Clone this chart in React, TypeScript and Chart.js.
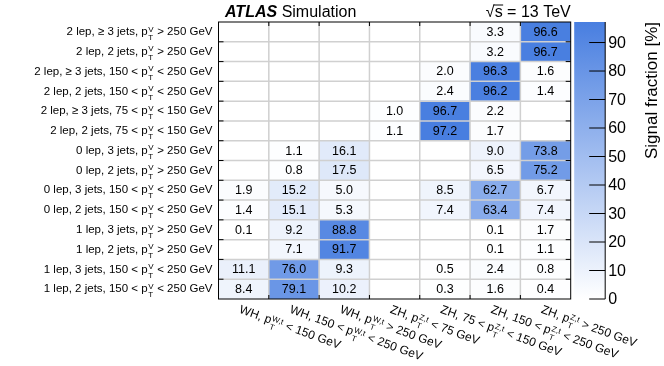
import React, { useEffect, useRef } from "react";
import { Chart, registerables } from "chart.js";

Chart.register(...registerables);

const FONT = '"Liberation Sans", Arial, Helvetica, sans-serif';

// Truth-level bins (columns): [before, superscript, subscript, after]
const truthLabels: [string, string, string, string][] = [
  ["WH, p", "W,t", "T", " < 150 GeV"],
  ["WH, 150 < p", "W,t", "T", " < 250 GeV"],
  ["WH, p", "W,t", "T", " > 250 GeV"],
  ["ZH, p", "Z,t", "T", " < 75 GeV"],
  ["ZH, 75 < p", "Z,t", "T", " < 150 GeV"],
  ["ZH, 150 < p", "Z,t", "T", " < 250 GeV"],
  ["ZH, p", "Z,t", "T", " > 250 GeV"],
];

// Reconstructed categories (rows, top to bottom)
const recoLabels: [string, string, string, string][] = [
  ["2 lep, \u2265 3 jets, p", "V", "T", " > 250 GeV"],
  ["2 lep, 2 jets, p", "V", "T", " > 250 GeV"],
  ["2 lep, \u2265 3 jets, 150 < p", "V", "T", " < 250 GeV"],
  ["2 lep, 2 jets, 150 < p", "V", "T", " < 250 GeV"],
  ["2 lep, \u2265 3 jets, 75 < p", "V", "T", " < 150 GeV"],
  ["2 lep, 2 jets, 75 < p", "V", "T", " < 150 GeV"],
  ["0 lep, 3 jets, p", "V", "T", " > 250 GeV"],
  ["0 lep, 2 jets, p", "V", "T", " > 250 GeV"],
  ["0 lep, 3 jets, 150 < p", "V", "T", " < 250 GeV"],
  ["0 lep, 2 jets, 150 < p", "V", "T", " < 250 GeV"],
  ["1 lep, 3 jets, p", "V", "T", " > 250 GeV"],
  ["1 lep, 2 jets, p", "V", "T", " > 250 GeV"],
  ["1 lep, 3 jets, 150 < p", "V", "T", " < 250 GeV"],
  ["1 lep, 2 jets, 150 < p", "V", "T", " < 250 GeV"],
];

// Signal fraction [%] per truth bin, rows top to bottom (null = empty)
const whLow = [null, null, null, null, null, null, null, null, 1.9, 1.4, 0.1, null, 11.1, 8.4];
const whMid = [null, null, null, null, null, null, 1.1, 0.8, 15.2, 15.1, 9.2, 7.1, 76.0, 79.1];
const whHigh = [null, null, null, null, null, null, 16.1, 17.5, 5.0, 5.3, 88.8, 91.7, 9.3, 10.2];
const zhVeryLow = [null, null, null, null, 1.0, 1.1, null, null, null, null, null, null, null, null];
const zhLow = [null, null, 2.0, 2.4, 96.7, 97.2, null, null, 8.5, 7.4, null, null, 0.5, 0.3];
const zhMid = [3.3, 3.2, 96.3, 96.2, 2.2, 1.7, 9.0, 6.5, 62.7, 63.4, 0.1, 0.1, 2.4, 1.6];
const zhHigh = [96.6, 96.7, 1.6, 1.4, null, null, 73.8, 75.2, 6.7, 7.4, 1.7, 1.1, 0.8, 0.4];

const columns: (number | null)[][] = [whLow, whMid, whHigh, zhVeryLow, zhLow, zhMid, zhHigh];

const colorbarTicks = [0, 10, 20, 30, 40, 50, 60, 70, 80, 90];
const zMax = 97.2;
const colorbarTitle = "Signal fraction [%]";

const nCols = columns.length;
const nRows = recoLabels.length;

const LOW = [255, 255, 255];
const HIGH = [72, 126, 224];
function heat(v: number): string {
  const f = Math.max(0, Math.min(1, v / zMax));
  const c = LOW.map((l, i) => Math.round(l + (HIGH[i] - l) * f));
  return `rgb(${c[0]},${c[1]},${c[2]})`;
}

const SMALL = `8px ${FONT}`;

function drawRich(ctx: CanvasRenderingContext2D, parts: [string, string, string, string], x0: number, baseline: number, main: string) {
  const [pre, sup, sub, post] = parts;
  ctx.font = main;
  const w1 = ctx.measureText(pre).width;
  ctx.font = SMALL;
  const w2 = Math.max(ctx.measureText(sup).width, ctx.measureText(sub).width);
  ctx.textAlign = "left";
  ctx.textBaseline = "alphabetic";
  ctx.font = main;
  ctx.fillText(pre, x0, baseline);
  ctx.font = SMALL;
  ctx.fillText(sup, x0 + w1 + 0.5, baseline - 3.5);
  ctx.fillText(sub, x0 + w1 + 0.5, baseline + 5);
  ctx.font = main;
  ctx.fillText(post, x0 + w1 + w2 + 1, baseline);
}

function richWidth(ctx: CanvasRenderingContext2D, parts: [string, string, string, string], main: string) {
  const [pre, sup, sub, post] = parts;
  ctx.font = main;
  const w1 = ctx.measureText(pre).width;
  const w3 = ctx.measureText(post).width;
  ctx.font = SMALL;
  const w2 = Math.max(ctx.measureText(sup).width, ctx.measureText(sub).width);
  return w1 + w2 + w3 + 1;
}

const decor = {
  id: "decor",
  afterDatasetsDraw(chart: any) {
    const ctx: CanvasRenderingContext2D = chart.ctx;
    const xs = chart.scales.x;
    const ys = chart.scales.y;
    const cs = chart.scales.cb;
    const L = xs.getPixelForValue(0);
    const R = xs.getPixelForValue(nCols);
    const T = ys.getPixelForValue(nRows);
    const B = ys.getPixelForValue(0);
    ctx.save();

    // grid
    ctx.strokeStyle = "#d0d0d0";
    ctx.lineWidth = 1.5;
    ctx.beginPath();
    for (let i = 1; i < nCols; i++) {
      const x = xs.getPixelForValue(i);
      ctx.moveTo(x, T);
      ctx.lineTo(x, B);
    }
    for (let j = 1; j < nRows; j++) {
      const y = ys.getPixelForValue(j);
      ctx.moveTo(L, y);
      ctx.lineTo(R, y);
    }
    ctx.stroke();

    // cell values
    ctx.fillStyle = "#000";
    ctx.font = `12.5px ${FONT}`;
    ctx.textAlign = "center";
    ctx.textBaseline = "middle";
    columns.forEach((col, c) =>
      col.forEach((v, r) => {
        if (v == null) return;
        const x = xs.getPixelForValue(c + 0.5);
        const y = ys.getPixelForValue(nRows - r - 0.5);
        ctx.fillText(v.toFixed(1), x, y + 0.5);
      })
    );

    // frame and ticks
    ctx.strokeStyle = "#000";
    ctx.lineWidth = 1;
    ctx.strokeRect(L, T, R - L, B - T);
    ctx.beginPath();
    for (let j = 1; j < nRows; j++) {
      const y = ys.getPixelForValue(j);
      ctx.moveTo(L, y);
      ctx.lineTo(L + 5, y);
      ctx.moveTo(R, y);
      ctx.lineTo(R - 5, y);
    }
    for (let i = 1; i < nCols; i++) {
      const x = xs.getPixelForValue(i);
      ctx.moveTo(x, T);
      ctx.lineTo(x, T + 4);
      ctx.moveTo(x, B);
      ctx.lineTo(x, B - 4);
    }
    ctx.stroke();

    // y labels
    const yMain = `11.5px ${FONT}`;
    ctx.fillStyle = "#000";
    recoLabels.forEach((parts, r) => {
      const y = ys.getPixelForValue(nRows - r - 0.5);
      const w = richWidth(ctx, parts, yMain);
      drawRich(ctx, parts, L - 6 - w, y + 3.3, yMain);
    });

    // x labels (rotated)
    const xMain = `12px ${FONT}`;
    const ang = (20 * Math.PI) / 180;
    truthLabels.forEach((parts, c) => {
      const x = xs.getPixelForValue(c + 0.5);
      ctx.save();
      ctx.translate(x - 2, B + 5);
      ctx.rotate(ang);
      drawRich(ctx, parts, 0, 9, xMain);
      ctx.restore();
    });

    // colour bar
    const cbL = R + 3.5;
    const cbR = R + 34.5;
    const cTop = cs.getPixelForValue(zMax);
    const cBot = cs.getPixelForValue(0);
    const grad = ctx.createLinearGradient(0, cBot, 0, cTop);
    grad.addColorStop(0, heat(0));
    grad.addColorStop(0.5, heat(zMax / 2));
    grad.addColorStop(1, heat(zMax));
    ctx.fillStyle = grad;
    ctx.fillRect(cbL, cTop, cbR - cbL, cBot - cTop);
    ctx.strokeStyle = "#000";
    ctx.lineWidth = 1;
    ctx.beginPath();
    ctx.moveTo(cbR, cTop);
    ctx.lineTo(cbR, cBot);
    colorbarTicks.forEach((t) => {
      const y = cs.getPixelForValue(t);
      ctx.moveTo(cbR - 16, y);
      ctx.lineTo(cbR, y);
    });
    ctx.stroke();
    ctx.fillStyle = "#000";
    ctx.font = `16px ${FONT}`;
    ctx.textAlign = "left";
    ctx.textBaseline = "middle";
    colorbarTicks.forEach((t) => {
      ctx.fillText(String(t), cbR + 3, cs.getPixelForValue(t) + 1);
    });
    ctx.save();
    ctx.translate(652, cTop);
    ctx.rotate(-Math.PI / 2);
    ctx.textAlign = "right";
    ctx.textBaseline = "middle";
    ctx.font = `17px ${FONT}`;
    ctx.fillText(colorbarTitle, 0, 0);
    ctx.restore();

    // header
    const base = T - 5.5;
    ctx.textBaseline = "alphabetic";
    ctx.textAlign = "left";
    ctx.font = `italic bold 16px ${FONT}`;
    ctx.fillText("ATLAS", L + 6.5, base);
    const wA = ctx.measureText("ATLAS").width;
    ctx.font = `16px ${FONT}`;
    ctx.fillText("Simulation", L + 6.5 + wA + 4.5, base);
    const wRoot = ctx.measureText("\u221A").width;
    const wS = ctx.measureText("s").width;
    const rest = " = 13 TeV";
    const wRest = ctx.measureText(rest).width;
    const sx = R - (wRoot + wS + wRest);
    ctx.fillText("\u221A", sx, base);
    ctx.fillText("s", sx + wRoot, base);
    ctx.fillText(rest, sx + wRoot + wS, base);
    ctx.beginPath();
    ctx.lineWidth = 1;
    ctx.moveTo(sx + wRoot - 1, base - 11.5);
    ctx.lineTo(sx + wRoot + wS + 0.5, base - 11.5);
    ctx.stroke();

    ctx.restore();
  },
};

export default function App() {
  const ref = useRef<HTMLCanvasElement>(null);
  useEffect(() => {
    const cells: { x: number; y: [number, number] }[] = [];
    const colors: string[] = [];
    columns.forEach((col, c) =>
      col.forEach((v, r) => {
        if (v == null) return;
        cells.push({ x: c + 0.5, y: [nRows - r - 1, nRows - r] });
        colors.push(heat(v));
      })
    );
    const chart = new Chart(ref.current as HTMLCanvasElement, {
      type: "bar",
      data: {
        datasets: [
          {
            data: cells as any,
            backgroundColor: colors,
            borderWidth: 0,
            barPercentage: 1,
            categoryPercentage: 1,
          },
        ],
      },
      options: {
        responsive: false,
        animation: false,
        events: [],
        layout: { padding: { left: 218.5, right: 93.3, top: 22, bottom: 67 } },
        plugins: { legend: { display: false }, tooltip: { enabled: false } },
        scales: {
          x: { type: "linear", display: false, min: 0, max: nCols, offset: false, ticks: { stepSize: 1 } },
          y: { type: "linear", display: false, min: 0, max: nRows, ticks: { stepSize: 1 } },
          cb: { type: "linear", axis: "y", position: "right", display: false, min: 0, max: zMax },
        } as any,
      },
      plugins: [decor],
    });
    return () => chart.destroy();
  }, []);
  return (
    <div style={{ position: "fixed", left: 0, top: 0, width: 664, height: 366, background: "#fff" }}>
      <canvas ref={ref} width={664} height={366} style={{ display: "block", width: 664, height: 366 }} />
    </div>
  );
}
